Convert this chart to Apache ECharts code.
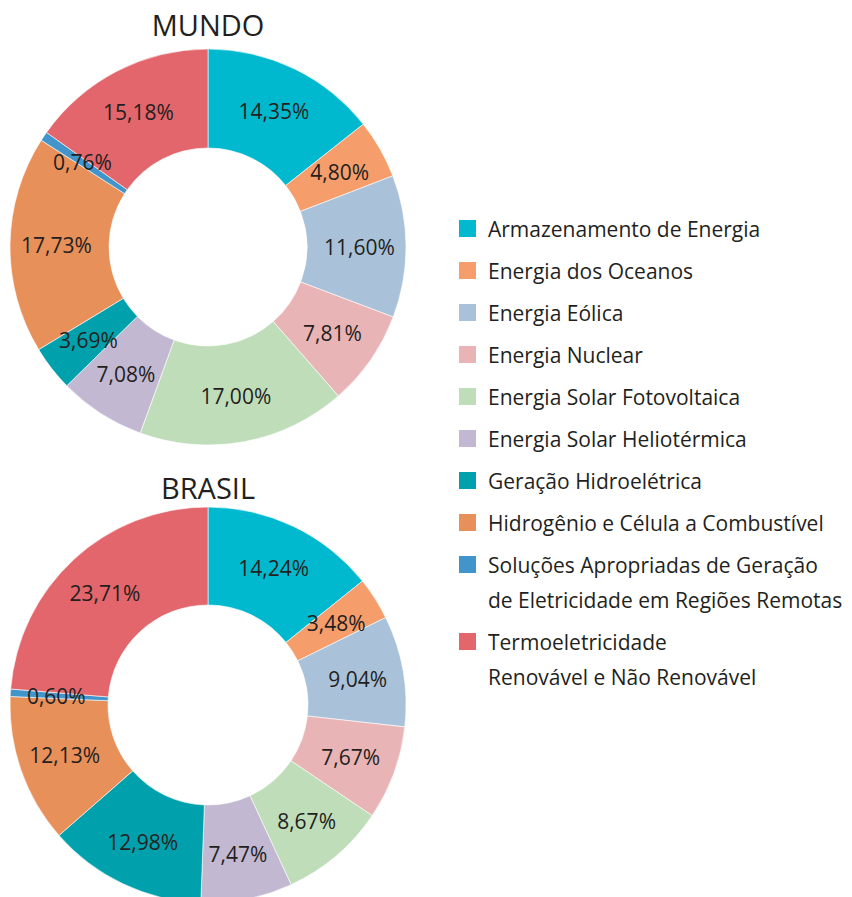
<!DOCTYPE html>
<html>
<head>
<meta charset="utf-8">
<script src="https://cdn.jsdelivr.net/npm/echarts@6/dist/echarts.min.js"></script>
<style>
html,body{margin:0;padding:0;background:#fff;}
#chart{width:852px;height:897px;}
</style>
</head>
<body>
<div id="chart"></div>
<script>
const categories = [
  'Armazenamento de Energia',
  'Energia dos Oceanos',
  'Energia Eólica',
  'Energia Nuclear',
  'Energia Solar Fotovoltaica',
  'Energia Solar Heliotérmica',
  'Geração Hidroelétrica',
  'Hidrogênio e Célula a Combustível',
  'Soluções Apropriadas de Geração\nde Eletricidade em Regiões Remotas',
  'Termoeletricidade\nRenovável e Não Renovável'
];
const colors = ['#00B9CF','#F59D6B','#A9C2DA','#E9B4B5','#C0DDBA','#C2B8D2','#00A1AD','#E8905A','#4295CB','#E2666B'];
const mundoValues = [14.35, 4.80, 11.60, 7.81, 17.00, 7.08, 3.69, 17.73, 0.76, 15.18];
const brasilValues = [14.24, 3.48, 9.04, 7.67, 8.67, 7.47, 12.98, 12.13, 0.60, 23.71];
const titles = ['MUNDO', 'BRASIL'];

const textColor = '#231f20';
const fontFam = '"Open Sans", sans-serif';

function pieData(vals) {
  return vals.map((v, i) => ({ name: categories[i], value: v, itemStyle: { color: colors[i] } }));
}
function fmt(p) { return p.value.toFixed(2).replace('.', ',') + '%'; }

const pieCommon = {
  type: 'pie',
  clockwise: true,
  startAngle: 90,
  silent: true,
  animation: false,
  avoidLabelOverlap: false,
  label: { show: true, position: 'inside', formatter: fmt, color: textColor, fontSize: 21, fontFamily: fontFam, textBorderWidth: 0 },
  labelLine: { show: false },
  itemStyle: { borderColor: '#fff', borderWidth: 0.6 }
};

// legend drawn as graphic from the categories array
const legendGraphics = [];
let ly = 228.5;
categories.forEach((name, i) => {
  const lines = name.split('\n').length;
  legendGraphics.push({ type: 'rect', shape: { x: 459, y: ly - 8.5, width: 17, height: 17 }, style: { fill: colors[i] } });
  legendGraphics.push({ type: 'text', x: 488, y: ly - 17.5, style: { text: name, fill: textColor, font: '21px ' + fontFam, lineHeight: 35, verticalAlign: 'top', align: 'left' } });
  ly += 42 + (lines - 1) * 35;
});

const option = {
  animation: false,
  backgroundColor: '#fff',
  graphic: [
    { type: 'text', x: 208, y: 24, style: { text: titles[0], fill: textColor, font: '29px ' + fontFam, align: 'center', verticalAlign: 'middle' } },
    { type: 'text', x: 208, y: 487, style: { text: titles[1], fill: textColor, font: '29px ' + fontFam, align: 'center', verticalAlign: 'middle' } }
  ].concat(legendGraphics),
  series: [
    Object.assign({}, pieCommon, { name: titles[0], center: [208, 247], radius: [99, 198], data: pieData(mundoValues) }),
    Object.assign({}, pieCommon, { name: titles[1], center: [208, 705], radius: [100, 198], data: pieData(brasilValues) })
  ]
};

const chart = echarts.init(document.getElementById('chart'), null, { renderer: 'svg' });
chart.setOption(option);
</script>
</body>
</html>
